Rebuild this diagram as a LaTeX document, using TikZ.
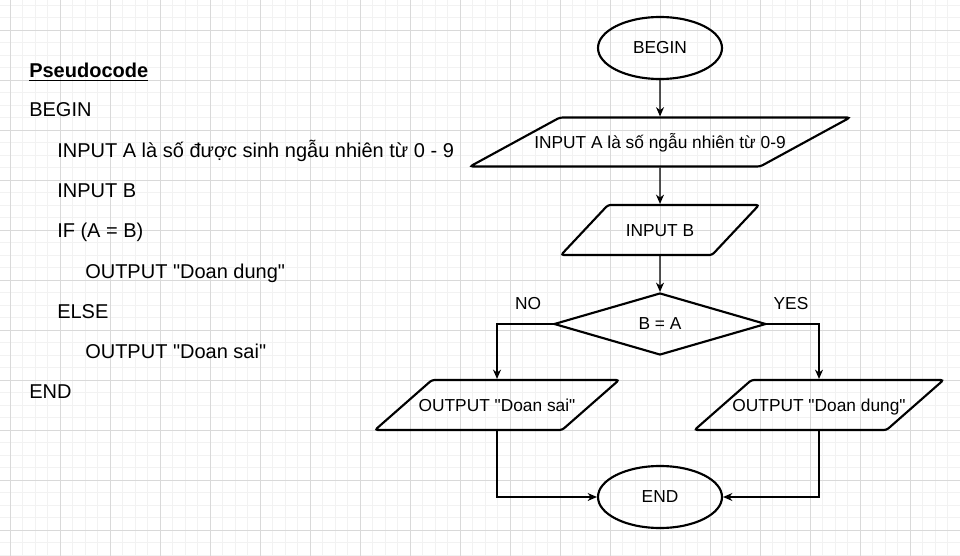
\documentclass[tikz,border=0pt]{standalone}
\usepackage{fontspec}
\setmainfont{Liberation Sans}
\usetikzlibrary{shapes.geometric}
\usetikzlibrary{arrows.meta}

\tikzset{
	term/.style={ellipse, draw, line width=1.6pt, minimum width=93pt, minimum height=46.5pt, inner sep=0pt, font=\fontsize{13}{15}\selectfont},
	io/.style 2 args={trapezium, trapezium left angle=#1, trapezium right angle=#2, trapezium stretches body, draw, line width=1.6pt, rounded corners=2pt, inner xsep=-24pt, text height=9.3pt, text depth=0pt, font=\fontsize{13}{15}\selectfont},
	decision/.style={diamond, draw, line width=1.6pt, minimum width=159pt, minimum height=46.5pt, inner sep=0pt, font=\fontsize{13}{15}\selectfont},
	flow/.style={-{Stealth[length=7pt,width=6pt]}, line width=0.9pt},
	code/.style={anchor=base west, inner sep=0pt, font=\fontsize{15}{18}\selectfont},
	branch/.style={inner sep=0pt, font=\fontsize{13}{15}\selectfont},
}

\begin{document}
\begin{tikzpicture}[x=0.75pt, y=-0.75pt]
	\useasboundingbox (0,0) rectangle (960,556);
	\fill[white] (0,0) rectangle (960,556);

	% Grid
	\foreach \i in {0,...,76} {
		\draw[gray!10, line width=0.4pt] ({10+12.5*\i},0) -- ({10+12.5*\i},556);
	}
	\foreach \i in {-2,...,42} {
		\draw[gray!10, line width=0.4pt] (0,{30+12.5*\i}) -- (960,{30+12.5*\i});
	}
	\foreach \i in {0,...,19} {
		\draw[gray!30, line width=0.5pt] ({10+50*\i},0) -- ({10+50*\i},556);
	}
	\foreach \i in {0,...,10} {
		\draw[gray!30, line width=0.5pt] (0,{30+50*\i}) -- (960,{30+50*\i});
	}

	% Pseudocode
	\node[code] (p0) at (29,78) {\underline{\textbf{Pseudocode}}};
	\node[code] (p1) at (29,117) {BEGIN};
	\node[code] (p2) at (57,158) {INPUT A là số được sinh ngẫu nhiên từ 0 - 9};
	\node[code] (p3) at (57,198) {INPUT B};
	\node[code] (p4) at (57,238) {IF (A = B)};
	\node[code] (p5) at (85,278) {OUTPUT \textquotedbl Doan dung\textquotedbl};
	\node[code] (p6) at (57,318) {ELSE};
	\node[code] (p7) at (85,358) {OUTPUT \textquotedbl Doan sai\textquotedbl};
	\node[code] (p8) at (29,398) {END};

	% Flowchart
	\node[term] (begin) at (660,48) {BEGIN};
	\node[io={28.6}{151.4}, minimum width=285pt, inner ysep=13.7pt] (inA) at (660,142) {INPUT A là số ngẫu nhiên từ 0-9};
	\node[io={46.8}{133.2}, minimum width=148.5pt, inner ysep=14.1pt] (inB) at (660,230) {INPUT B};
	\node[decision] (cmp) at (660,324) {B = A};
	\node[io={41.3}{138.7}, minimum width=183pt, inner ysep=14.1pt] (outSai) at (497,405) {OUTPUT \textquotedbl Doan sai\textquotedbl};
	\node[io={41.3}{138.7}, minimum width=186.75pt, inner ysep=14.1pt] (outDung) at (819,405) {OUTPUT \textquotedbl Doan dung\textquotedbl};
	\node[term] (end) at (660,497) {END};

	\node[branch] (no) at (528,304) {NO};
	\node[branch] (yes) at (791,304) {YES};

	% Connectors
	\draw[flow] (begin) -- (inA);
	\draw[flow] (inA) -- (inB);
	\draw[flow] (inB) -- (cmp);
	\draw[flow] (cmp.west) -| (outSai.north);
	\draw[flow] (cmp.east) -| (outDung.north);
	\draw[flow] (outSai.south) |- (end.west);
	\draw[flow] (outDung.south) |- (end.east);
\end{tikzpicture}
\end{document}
